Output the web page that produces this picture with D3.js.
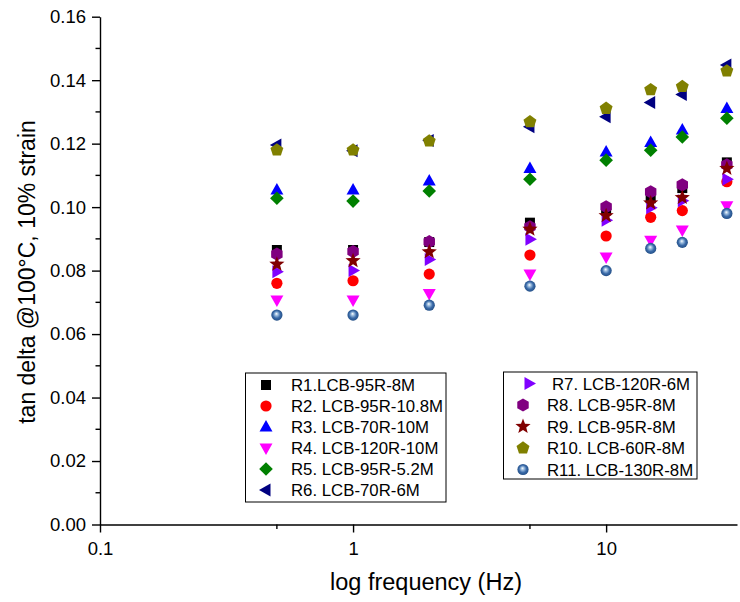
<!DOCTYPE html>
<html>
<head>
<meta charset="utf-8">
<script src="https://cdn.jsdelivr.net/npm/d3@7"></script>
<style>
  body { margin: 0; background: #fff; }
  svg { display: block; font-family: Arial, "Liberation Sans", sans-serif; }
</style>
</head>
<body>
<svg id="chart" width="740" height="602"></svg>
<script>
// ---------- data ----------
const frequencies = [0.5, 1, 2, 5, 10, 15, 20, 30];
const seriesNames = [
  "R1.LCB-95R-8M", "R2. LCB-95R-10.8M", "R3. LCB-70R-10M", "R4. LCB-120R-10M",
  "R5. LCB-95R-5.2M", "R6. LCB-70R-6M", "R7. LCB-120R-6M", "R8. LCB-95R-8M",
  "R9. LCB-95R-8M", "R10. LCB-60R-8M", "R11. LCB-130R-8M"
];
const r1  = [0.0865, 0.0865, 0.089, 0.0951, 0.099, 0.1028, 0.106, 0.1141];
const r2  = [0.076, 0.0768, 0.0789, 0.0849, 0.0909, 0.0968, 0.0989, 0.108];
const r3  = [0.1054, 0.1054, 0.1082, 0.1122, 0.1174, 0.1204, 0.1243, 0.1311];
const r4  = [0.0707, 0.0707, 0.0728, 0.0789, 0.0843, 0.0896, 0.0928, 0.1004];
const r5  = [0.1028, 0.1019, 0.1051, 0.1088, 0.1148, 0.1179, 0.1221, 0.128];
const r6  = [0.1196, 0.1178, 0.121, 0.1253, 0.1285, 0.133, 0.1355, 0.1448];
const r7  = [0.0796, 0.080, 0.0835, 0.0899, 0.0959, 0.0998, 0.102, 0.1088];
const r8  = [0.0852, 0.086, 0.0891, 0.0938, 0.1001, 0.1048, 0.107, 0.1133];
const r9  = [0.082, 0.0831, 0.0859, 0.093, 0.0973, 0.1013, 0.103, 0.1122];
const r10 = [0.118, 0.118, 0.1208, 0.1269, 0.1311, 0.137, 0.138, 0.1429];
const r11 = [0.066, 0.066, 0.0691, 0.0751, 0.080, 0.087, 0.0889, 0.098];
const seriesValues = [r1, r2, r3, r4, r5, r6, r7, r8, r9, r10, r11];
const yTicks = [0, 0.02, 0.04, 0.06, 0.08, 0.10, 0.12, 0.14, 0.16];
const yMinorTicks = [0.01, 0.03, 0.05, 0.07, 0.09, 0.11, 0.13, 0.15];
const xTicks = [0.1, 1, 10];
const xMinorTicks = [0.5, 5];
const xTickLabels = ["0.1", "1", "10"];

// ---------- styles ----------
const shapes = ["square", "circle", "up", "down", "diamond", "left", "right", "hexagon", "star", "pentagon", "sphere"];
const colors = ["#000000", "#FF0000", "#0000FF", "#FF00FF", "#008000", "#000080", "#8000FF", "#800080", "#800000", "#808000", "#336699"];

const svg = d3.select("#chart");
const defs = svg.append("defs");
const grad = defs.append("radialGradient").attr("id", "sphereGrad")
  .attr("cx", "0.5").attr("cy", "0.5").attr("r", "0.55")
  .attr("fx", "0.45").attr("fy", "0.38");
grad.append("stop").attr("offset", "0").attr("stop-color", "#ffffff");
grad.append("stop").attr("offset", "0.25").attr("stop-color", "#9fbfe0");
grad.append("stop").attr("offset", "0.6").attr("stop-color", "#3a6aa8");
grad.append("stop").attr("offset", "1").attr("stop-color", "#1f4a80");

const x = d3.scaleLog().domain([0.1, 32.9]).range([100, 737]);
const y = d3.scaleLinear().domain([0, 0.16]).range([524.5, 16.7]);

function poly(n, r, rot) {
  const pts = [];
  for (let i = 0; i < n; i++) {
    const a = rot + i * 2 * Math.PI / n;
    pts.push([r * Math.cos(a), r * Math.sin(a)]);
  }
  return "M" + pts.map(p => p[0].toFixed(2) + "," + p[1].toFixed(2)).join("L") + "Z";
}
function starPath(ro, ri) {
  const pts = [];
  for (let i = 0; i < 10; i++) {
    const r = i % 2 === 0 ? ro : ri;
    const a = -Math.PI / 2 + i * Math.PI / 5;
    pts.push([r * Math.cos(a), r * Math.sin(a)]);
  }
  return "M" + pts.map(p => p[0].toFixed(2) + "," + p[1].toFixed(2)).join("L") + "Z";
}
function shapePath(s) {
  switch (s) {
    case "square": return "M-5,-5L5,-5L5,5L-5,5Z";
    case "up": return "M0,-7L6.5,4.5L-6.5,4.5Z";
    case "down": return "M0,7L6.5,-4.5L-6.5,-4.5Z";
    case "left": return "M-7,0L4.5,-6.5L4.5,6.5Z";
    case "right": return "M7,0L-4.5,-6.5L-4.5,6.5Z";
    case "diamond": return "M0,-6.8L6.8,0L0,6.8L-6.8,0Z";
    case "hexagon": return poly(6, 6.6, -Math.PI / 2);
    case "pentagon": return poly(5, 6.8, -Math.PI / 2);
    case "star": return starPath(8, 3.4);
  }
  return null;
}
function drawMarker(g, s, color, cx, cy) {
  if (s === "circle") {
    g.append("circle").attr("cx", cx).attr("cy", cy).attr("r", 5.6).attr("fill", color);
  } else if (s === "sphere") {
    g.append("circle").attr("cx", cx).attr("cy", cy).attr("r", 5.6).attr("fill", "url(#sphereGrad)");
  } else {
    g.append("path").attr("d", shapePath(s)).attr("transform", `translate(${cx},${cy})`).attr("fill", color);
  }
}

// ---------- axes ----------
const axisColor = "#000";
const yAxis = d3.axisLeft(y).tickValues(yTicks).tickFormat(d3.format(".2f")).tickSize(8).tickPadding(6).tickSizeOuter(0);
const gy = svg.append("g").attr("transform", "translate(100,0)").call(yAxis);
gy.selectAll("text").attr("font-size", 18.5).attr("fill", "#000").attr("font-family", "Arial, 'Liberation Sans', sans-serif");
gy.selectAll("line").attr("stroke", axisColor).attr("stroke-width", 1.4);
gy.select(".domain").attr("stroke", axisColor).attr("stroke-width", 1.4);
gy.selectAll(".minor").data(yMinorTicks).enter().append("line").attr("class", "minor")
  .attr("x1", 0).attr("x2", -4.5).attr("y1", d => y(d)).attr("y2", d => y(d))
  .attr("stroke", axisColor).attr("stroke-width", 1.4);

const xAxis = d3.axisBottom(x).tickValues(xTicks).tickFormat((d, i) => xTickLabels[i]).tickSize(8).tickPadding(9).tickSizeOuter(0);
const gx = svg.append("g").attr("transform", `translate(0,${y(0)})`).call(xAxis);
gx.selectAll("text").attr("font-size", 18.5).attr("fill", "#000").attr("font-family", "Arial, 'Liberation Sans', sans-serif");
gx.selectAll("line").attr("stroke", axisColor).attr("stroke-width", 1.4);
gx.select(".domain").attr("stroke", axisColor).attr("stroke-width", 1.4);
gx.selectAll(".minor").data(xMinorTicks).enter().append("line").attr("class", "minor")
  .attr("x1", d => x(d)).attr("x2", d => x(d)).attr("y1", 0).attr("y2", 4.5)
  .attr("stroke", axisColor).attr("stroke-width", 1.4);

// axis titles
svg.append("text").attr("x", 426).attr("y", 590).attr("text-anchor", "middle")
  .attr("font-size", 23.5).attr("fill", "#000").text("log frequency (Hz)");
svg.append("text").attr("transform", "translate(35,272) rotate(-90)").attr("text-anchor", "middle")
  .attr("font-size", 23).attr("fill", "#000").text("tan delta @100°C, 10% strain");

// ---------- points ----------
const pts = svg.append("g");
seriesValues.forEach((vals, si) => {
  const g = pts.append("g");
  vals.forEach((v, i) => drawMarker(g, shapes[si], colors[si], x(frequencies[i]), y(v)));
});

// ---------- legends ----------
function legend(box, items, symX, textX, rowY0, rowStep, symOffsets, textOffsets) {
  const g = svg.append("g");
  g.append("rect").attr("x", box[0]).attr("y", box[1]).attr("width", box[2]).attr("height", box[3])
    .attr("fill", "#fff").attr("stroke", "#000").attr("stroke-width", 1);
  items.forEach((si, k) => {
    const cy = rowY0 + k * rowStep;
    drawMarker(g, shapes[si], colors[si], symX + (symOffsets[k] || 0), cy);
    g.append("text").attr("x", textX + (textOffsets[k] || 0)).attr("y", cy + 6.3)
      .attr("font-size", 16.8).attr("fill", "#000").text(seriesNames[si]);
  });
}
legend([245.5, 373, 200.5, 129], [0, 1, 2, 3, 4, 5], 266, 291, 385, 21, [], []);
legend([503.5, 372, 193.5, 107], [6, 7, 8, 9, 10], 523, 547, 383.5, 21.5, [6], [5]);
</script>
</body>
</html>
